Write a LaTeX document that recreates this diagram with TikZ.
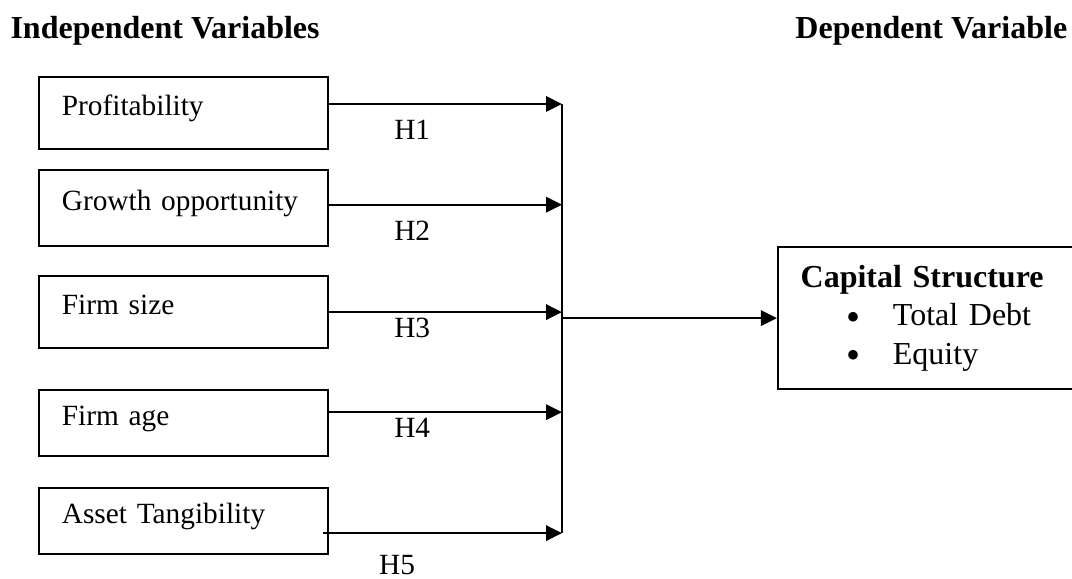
\documentclass[tikz,border=0pt]{standalone}
\usepackage{fontspec}
\setmainfont{Liberation Serif}
\usetikzlibrary{arrows.meta,positioning}
\newcommand{\bigbul}{\makebox[17.6pt][l]{\raisebox{-1.7pt}{\fontsize{15}{15}\selectfont\textbullet}}}

\begin{document}
\begin{tikzpicture}[
      font=\fontsize{11}{13}\selectfont,
      var/.style={draw,line width=0.6pt,minimum width=108.4pt,text width=91.2pt,inner xsep=8.6pt,inner ysep=0pt,align=left,text height=8pt,text depth=6pt,outer sep=0pt},
      dep/.style={draw,line width=0.6pt,minimum height=53.25pt,text width=96.4pt,inner xsep=8.6pt,align=left,font=\fontsize{12}{14.5}\selectfont},
      heading/.style={font=\fontsize{12}{14}\selectfont\bfseries,inner sep=0pt,anchor=base west},
      hyp/.style={pos=0.36,inner sep=0pt},
      arr/.style={-{Triangle[length=6pt,width=5.8pt]},line width=0.75pt}]
    \path[use as bounding box,clip] (0,0) rectangle (402pt,-217.125pt);
    \node[heading] (indep) at (3.75pt,-14.6pt) {Independent Variables};
    \node[heading] (depv) at (298.1pt,-14.6pt) {Dependent Variable};
    \node[var,minimum height=27pt,anchor=north west] (prof) at (14.6pt,-28.9pt) {Profitability};
    \node[var,minimum height=28.5pt,below=7.9pt of prof] (grow) {Growth opportunity};
    \node[var,minimum height=27pt,below=11.25pt of grow] (fsize) {Firm size};
    \node[var,minimum height=24.75pt,below=15.75pt of fsize] (fage) {Firm age};
    \node[var,minimum height=24.75pt,below=12pt of fage] (tang) {Asset Tangibility};
    % where the arrows meet the bus
    \coordinate[right=87.75pt of prof.east,yshift=3.4pt] (t1);
    \coordinate[right=87.75pt of grow.east,yshift=1.3pt] (t2);
    \coordinate[right=87.75pt of fsize.east] (t3);
    \coordinate[right=87.75pt of fage.east,yshift=4.1pt] (t4);
    \coordinate[right=87.75pt of tang.east,yshift=-4.5pt] (t5);
    \coordinate[right=87.75pt of fsize.east,yshift=-2.25pt] (hub);
    \draw[line width=0.75pt] (t1) -- (t5);
    \draw[arr] (prof.east |- t1) -- (t1) node[hyp,yshift=-9.75pt] {H1};
    \draw[arr] (grow.east |- t2) -- (t2) node[hyp,yshift=-9.75pt] {H2};
    \draw[arr] (fsize.east |- t3) -- (t3) node[hyp,yshift=-6pt] {H3};
    \draw[arr] (fage.east |- t4) -- (t4) node[hyp,yshift=-6pt] {H4};
    \draw[arr] (tang.east |- t5) ++(-1.9pt,0) -- (t5) node[hyp,pos=0.31,yshift=-12pt] {H5};
    \node[dep,right=80.6pt of hub] (cap) {\textbf{Capital Structure}\\
      \hspace*{17pt}\bigbul Total Debt\\
      \hspace*{17pt}\bigbul Equity};
    \draw[arr] (hub) -- (cap);
  \end{tikzpicture}
\end{document}
